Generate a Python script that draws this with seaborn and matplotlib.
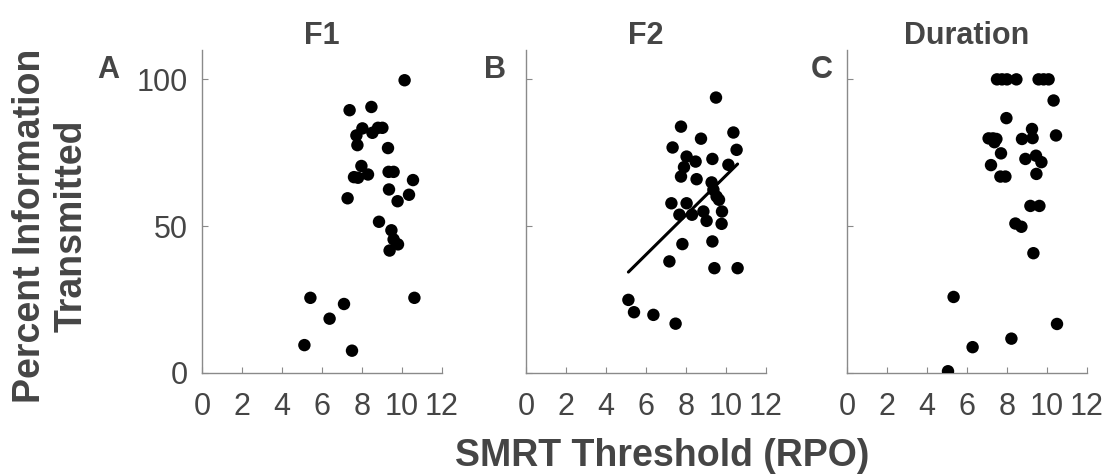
import numpy as np
import pandas as pd
import matplotlib
matplotlib.use("Agg")
import matplotlib.pyplot as plt
import seaborn as sns

# ---- data ----
f1_x = [10.13, 7.38, 8.47, 8.02, 7.72, 8.52, 8.80, 9.02, 7.77, 9.30, 7.97, 7.60, 7.80, 8.30,
        9.33, 9.58, 10.55, 9.35, 7.28, 9.78, 10.35, 8.85, 9.47, 9.58, 9.80, 9.38, 5.42, 10.62,
        7.10, 6.38, 5.12, 7.50]
f1_y = [99.7, 89.5, 90.6, 83.3, 80.9, 81.8, 83.5, 83.5, 77.6, 76.6, 70.5, 66.7, 66.5, 67.6,
        68.5, 68.5, 65.7, 62.5, 59.5, 58.5, 60.7, 51.5, 48.6, 45.5, 43.8, 41.7, 25.6, 25.6,
        23.5, 18.5, 9.5, 7.6]

f2_x = [9.50, 7.75, 10.37, 8.75, 7.33, 10.53, 8.03, 8.48, 9.32, 7.90, 10.12, 7.75, 8.53, 9.28,
        9.37, 9.53, 9.65, 7.27, 8.03, 9.80, 7.67, 8.30, 8.87, 9.03, 9.78, 7.82, 9.32, 7.17,
        9.42, 10.58, 5.12, 5.40, 6.37, 7.48]
f2_y = [93.8, 83.9, 81.9, 79.8, 76.8, 76.0, 73.7, 72.0, 72.9, 70.1, 70.9, 66.9, 66.0, 64.9,
        62.4, 60.1, 59.0, 57.8, 57.8, 55.0, 53.9, 53.9, 55.0, 51.8, 50.8, 43.9, 44.8, 38.0,
        35.7, 35.7, 24.9, 20.7, 19.8, 16.8]

dur_x = [7.50, 7.75, 8.00, 8.47, 9.58, 9.83, 10.08, 10.33, 7.97, 9.25, 7.08, 7.30, 7.47, 7.37,
         8.75, 9.28, 10.45, 7.70, 7.20, 8.92, 9.45, 9.72, 7.67, 7.92, 9.47, 9.17, 9.62, 8.42,
         8.72, 9.32, 5.33, 10.50, 8.22, 6.28, 5.05]
dur_y = [100, 100, 100, 100, 100, 100, 100, 92.8, 86.8, 83.1, 79.9, 79.9, 79.7, 78.6,
         79.7, 80.0, 80.9, 74.8, 70.8, 72.9, 74.0, 71.8, 66.9, 66.9, 67.8, 56.9, 56.9, 50.9,
         49.8, 40.8, 25.9, 16.7, 11.7, 8.8, 0.6]

titles = ["F1", "F2", "Duration"]
letters = ["A", "B", "C"]
xticks = [0, 2, 4, 6, 8, 10, 12]
yticks = [0, 50, 100]

sns.set_theme(style="white")
plt.rcParams["font.family"] = ["Liberation Sans", "DejaVu Sans"]

TXT = "#454545"
SPN = "#8a8a8a"

fig = plt.figure(figsize=(11.08, 4.76), dpi=100)
lefts = [202 / 1108, 526 / 1108, 847 / 1108]
bottom = 1 - 373 / 476
height = (373 - 50) / 476
width = 240 / 1108

panels = [(f1_x, f1_y), (f2_x, f2_y), (dur_x, dur_y)]
axes = []
for i, (xs, ys) in enumerate(panels):
    ax = fig.add_axes([lefts[i], bottom, width, height])
    df = pd.DataFrame({"x": xs, "y": ys})
    sns.scatterplot(data=df, x="x", y="y", ax=ax, color="black", s=80,
                    edgecolor="none", linewidth=0, zorder=3)
    if i == 1:
        sns.regplot(data=df, x="x", y="y", ax=ax, scatter=False, ci=None,
                    line_kws=dict(color="black", lw=2.2), truncate=True)
    ax.set_xlim(0, 12)
    ax.set_ylim(0, 110)
    ax.set_xticks(xticks)
    ax.set_yticks(yticks)
    if i == 0:
        ax.set_yticklabels([str(v) for v in yticks])
    else:
        ax.set_yticklabels([])
    ax.set_xticklabels([str(v) for v in xticks])
    ax.set_xlabel("")
    ax.set_ylabel("")
    for s in ["top", "right"]:
        ax.spines[s].set_visible(False)
    for s in ["left", "bottom"]:
        ax.spines[s].set_color(SPN)
        ax.spines[s].set_linewidth(1.0)
    ax.tick_params(axis="both", direction="in", length=4, width=0.8, color=SPN,
                   labelsize=22, labelcolor=TXT, left=True, bottom=True)
    ax.tick_params(axis="x", pad=14)
    ax.tick_params(axis="y", pad=10)
    ax.set_title(titles[i], fontsize=22, fontweight="bold", color=TXT, pad=4)
    axes.append(ax)

# panel letters
for i, lt in enumerate(letters):
    xpos = [108, 495, 822][i] / 1108
    fig.text(xpos, 1 - 70 / 476, lt, fontsize=22, fontweight="bold", color=TXT,
             ha="center", va="center")

fig.text(51 / 1108, 1 - 226 / 476, "Percent Information\nTransmitted", rotation=90,
         fontsize=27, fontweight="bold", color=TXT, ha="center", va="center",
         linespacing=1.2)
fig.text(662 / 1108, 1 - 456 / 476, "SMRT Threshold (RPO)", fontsize=27,
         fontweight="bold", color=TXT, ha="center", va="center")

fig.savefig("out.png", dpi=100)
